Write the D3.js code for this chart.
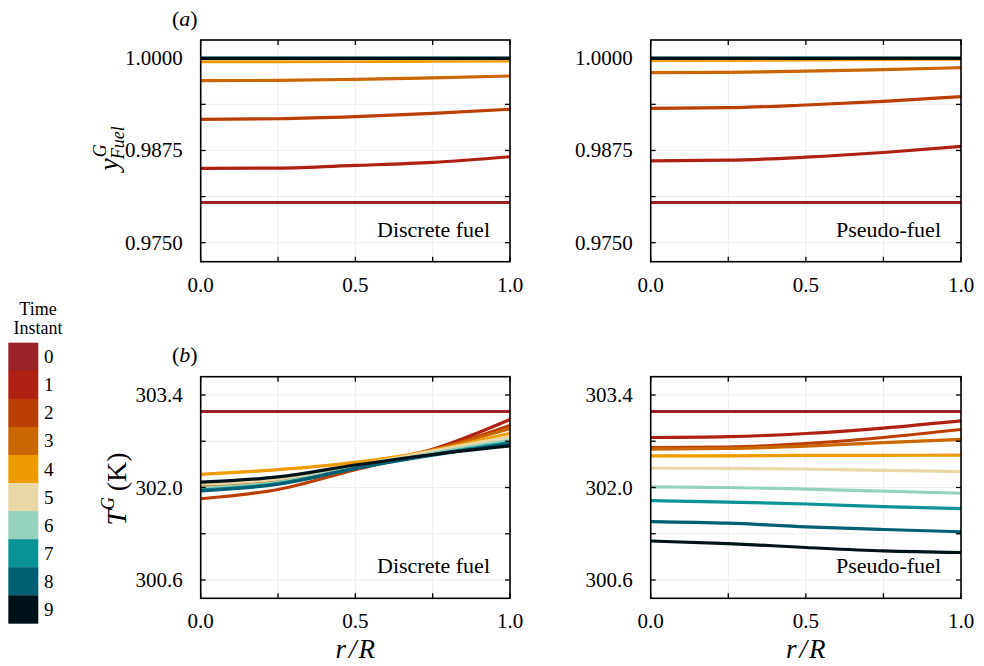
<!DOCTYPE html>
<html>
<head>
<meta charset="utf-8">
<script src="https://cdn.jsdelivr.net/npm/d3@7"></script>
</head>
<body style="margin:0;background:#fff">
<svg id="chart" width="984" height="666" style="display:block"></svg>
<script>
// ---------------- DATA ----------------
const rPoints = [0, 0.25, 0.5, 0.75, 1.0];
const timeInstants = ["0", "1", "2", "3", "4", "5", "6", "7", "8", "9"];
const instantColors = ["#9b2226", "#ae2012", "#bb3e03", "#ca6702", "#ee9b00",
                       "#e9d8a6", "#94d2bd", "#0a9396", "#005f73", "#001219"];

const xTicks = [0, 0.5, 1.0];
const xMinorTicks = [0.25, 0.75];
const yFuelTicks = [0.975, 0.9875, 1.0];
const yFuelMinorTicks = [0.98125, 0.99375];
const tempTicks = [300.6, 302.0, 303.4];
const tempMinorTicks = [301.3, 302.7];

// Gas fuel mass fraction, discrete fuel (one row per time instant, values at rPoints)
const yFuelDiscrete = [
  [0.98045, 0.98045, 0.98045, 0.98045, 0.98045],
  [0.98506, 0.98512, 0.98547, 0.98588, 0.98665],
  [0.99173, 0.99180, 0.99208, 0.99254, 0.99309],
  [0.99696, 0.99700, 0.99715, 0.99735, 0.99760],
  [0.99954, 0.99955, 0.99957, 0.99960, 0.99963],
  [0.99992, 0.99992, 0.99993, 0.99994, 0.99995],
  [0.99998, 0.99998, 0.99998, 0.99999, 0.99999],
  [0.99999, 0.99999, 0.99999, 1.00000, 1.00000],
  [1.00000, 1.00000, 1.00000, 1.00000, 1.00000],
  [1.00000, 1.00000, 1.00000, 1.00000, 1.00000]
];
// Gas fuel mass fraction, pseudo-fuel
const yFuelPseudo = [
  [0.98045, 0.98045, 0.98045, 0.98045, 0.98045],
  [0.98610, 0.98618, 0.98660, 0.98723, 0.98804],
  [0.99322, 0.99330, 0.99367, 0.99417, 0.99480],
  [0.99805, 0.99810, 0.99825, 0.99845, 0.99873],
  [0.99968, 0.99972, 0.99978, 0.99984, 0.99990],
  [0.99995, 0.99996, 0.99997, 0.99998, 0.99999],
  [0.99998, 0.99998, 0.99999, 0.99999, 1.00000],
  [1.00000, 1.00000, 1.00000, 1.00000, 1.00000],
  [1.00000, 1.00000, 1.00000, 1.00000, 1.00000],
  [1.00000, 1.00000, 1.00000, 1.00000, 1.00000]
];
// Gas temperature (K), discrete fuel
const tempDiscrete = [
  [303.15, 303.15, 303.15, 303.15, 303.15],
  [302.03, 302.12, 302.33, 302.58, 303.03],
  [301.83, 301.97, 302.27, 302.56, 302.94],
  [302.00, 302.10, 302.32, 302.57, 302.89],
  [302.20, 302.27, 302.38, 302.56, 302.82],
  [302.05, 302.13, 302.33, 302.55, 302.77],
  [301.99, 302.08, 302.30, 302.52, 302.72],
  [301.96, 302.06, 302.29, 302.50, 302.68],
  [301.95, 302.05, 302.29, 302.49, 302.66],
  [302.08, 302.16, 302.34, 302.50, 302.63]
];
// Gas temperature (K), pseudo-fuel
const tempPseudo = [
  [303.15, 303.15, 303.15, 303.15, 303.15],
  [302.757, 302.77, 302.817, 302.90, 303.008],
  [302.605, 302.61, 302.666, 302.757, 302.878],
  [302.58, 302.59, 302.625, 302.68, 302.727],
  [302.478, 302.48, 302.485, 302.487, 302.489],
  [302.292, 302.29, 302.28, 302.26, 302.24],
  [302.01, 302.00, 301.975, 301.945, 301.913],
  [301.80, 301.78, 301.75, 301.71, 301.68],
  [301.485, 301.46, 301.404, 301.364, 301.33],
  [301.19, 301.152, 301.092, 301.04, 301.016]
];

// ---------------- LAYOUT ----------------
const FONT = '"Liberation Serif"';
const svg = d3.select("#chart").style("font-family", FONT);
svg.append("rect").attr("width", 984).attr("height", 666).attr("fill", "#fff");

function txt(sel, size) {
  return sel.append("text").style("font-family", FONT).style("font-size", size + "px").attr("fill", "#000");
}

const colX = [[200.7, 510], [650.7, 961]];
const rowY = [[40, 261.7], [376.7, 598.3]];

const panels = [
  { col: 0, row: 0, data: yFuelDiscrete, domain: [0.97242, 1.00248], ticks: yFuelTicks, minor: yFuelMinorTicks, fmt: d3.format(".4f"), note: "Discrete fuel" },
  { col: 1, row: 0, data: yFuelPseudo,   domain: [0.97242, 1.00248], ticks: yFuelTicks, minor: yFuelMinorTicks, fmt: d3.format(".4f"), note: "Pseudo-fuel" },
  { col: 0, row: 1, data: tempDiscrete,  domain: [300.323, 303.677], ticks: tempTicks, minor: tempMinorTicks, fmt: d3.format(".1f"), note: "Discrete fuel" },
  { col: 1, row: 1, data: tempPseudo,    domain: [300.323, 303.677], ticks: tempTicks, minor: tempMinorTicks, fmt: d3.format(".1f"), note: "Pseudo-fuel" }
];

const tickFont = 21;
const tickLen = 5;

panels.forEach((p, pi) => {
  const [x0, x1] = colX[p.col];
  const [y0, y1] = rowY[p.row];
  const x = d3.scaleLinear().domain([0, 1]).range([x0, x1]);
  const y = d3.scaleLinear().domain(p.domain).range([y1, y0]);
  const g = svg.append("g");
  const allX = xTicks.concat(xMinorTicks);
  const allY = p.ticks.concat(p.minor);

  // grid
  const grid = g.append("g").attr("stroke", "#ededed").attr("stroke-width", 1);
  allX.forEach(v => grid.append("line").attr("x1", x(v)).attr("x2", x(v)).attr("y1", y0).attr("y2", y1));
  allY.forEach(v => grid.append("line").attr("x1", x0).attr("x2", x1).attr("y1", y(v)).attr("y2", y(v)));

  // clip
  const clipId = "clip" + pi;
  svg.append("clipPath").attr("id", clipId).append("rect")
    .attr("x", x0).attr("y", y0).attr("width", x1 - x0).attr("height", y1 - y0);

  // lines
  const line = d3.line()
    .x((d, i) => x(rPoints[i]))
    .y(d => y(d))
    .curve(d3.curveMonotoneX);
  g.append("g").attr("clip-path", `url(#${clipId})`)
    .selectAll("path").data(p.data).join("path")
    .attr("d", d => line(d))
    .attr("fill", "none")
    .attr("stroke", (d, i) => instantColors[i])
    .attr("stroke-width", 3.2);

  // inward ticks on all four sides
  const tk = g.append("g").attr("stroke", "#000").attr("stroke-width", 1.3);
  allX.forEach(v => {
    tk.append("line").attr("x1", x(v)).attr("x2", x(v)).attr("y1", y1).attr("y2", y1 - tickLen);
    tk.append("line").attr("x1", x(v)).attr("x2", x(v)).attr("y1", y0).attr("y2", y0 + tickLen);
  });
  allY.forEach(v => {
    tk.append("line").attr("x1", x0).attr("x2", x0 + tickLen).attr("y1", y(v)).attr("y2", y(v));
    tk.append("line").attr("x1", x1).attr("x2", x1 - tickLen).attr("y1", y(v)).attr("y2", y(v));
  });

  // tick labels
  xTicks.forEach(v => {
    txt(g, tickFont).attr("x", x(v)).attr("y", y1 + 30).attr("text-anchor", "middle").text(d3.format(".1f")(v));
  });
  p.ticks.forEach(v => {
    txt(g, tickFont).attr("x", x0 - 18).attr("y", y(v) + 7).attr("text-anchor", "end").text(p.fmt(v));
  });

  // frame
  g.append("rect").attr("x", x0).attr("y", y0).attr("width", x1 - x0).attr("height", y1 - y0)
    .attr("fill", "none").attr("stroke", "#000").attr("stroke-width", 1.6);

  // annotation
  txt(g, 22).attr("x", x1 - 20).attr("y", y1 - 25).attr("text-anchor", "end").text(p.note);

  // x axis label for bottom row
  if (p.row === 1) {
    const t = txt(g, 27).attr("x", (x0 + x1) / 2).attr("y", 658)
      .attr("text-anchor", "middle").style("font-style", "italic");
    t.append("tspan").text("r");
    t.append("tspan").attr("dx", 3).text("/");
    t.append("tspan").attr("dx", 2).text("R");
  }
});

// panel labels
[["a", 26], ["b", 362]].forEach(([lab, yy]) => {
  txt(svg, 22).attr("x", 172).attr("y", yy)
    .selectAll("tspan").data([["(", "normal"], [lab, "italic"], [")", "normal"]]).join("tspan")
    .style("font-style", d => d[1]).text(d => d[0]);
});

// y axis labels
(function () {
  const g = svg.append("g").attr("transform", "translate(118,148) rotate(-90)");
  const yT = txt(g, 28).style("font-style", "italic").text("y");
  const w = yT.node().getComputedTextLength();
  txt(g, 18).attr("x", w + 1).attr("y", -12).style("font-style", "italic").text("G");
  const f = txt(g, 18).attr("x", w - 1).attr("y", 6).style("font-style", "italic").text("Fuel");
  const total = w + f.node().getComputedTextLength();
  g.selectAll("text").attr("transform", `translate(${-total / 2},0)`);
})();
(function () {
  const g = svg.append("g").attr("transform", "translate(126,489) rotate(-90)");
  const t = txt(g, 28);
  t.append("tspan").style("font-style", "italic").text("T");
  t.append("tspan").style("font-style", "italic").style("font-size", "18px").attr("dy", -12).text("G");
  t.append("tspan").attr("dy", 12).text("\u2009(K)");
  const total = t.node().getComputedTextLength();
  t.attr("x", -total / 2);
})();

// legend
const legend = svg.append("g");
const cellH = 28.07;
txt(legend, 18).attr("x", 38).attr("y", 315).attr("text-anchor", "middle").text("Time");
txt(legend, 18).attr("x", 38).attr("y", 334).attr("text-anchor", "middle").text("Instant");
legend.selectAll("rect").data(timeInstants).join("rect")
  .attr("x", 8.3).attr("y", (d, i) => 342.7 + i * cellH)
  .attr("width", 30).attr("height", cellH + 0.3)
  .attr("fill", (d, i) => instantColors[i]);
timeInstants.forEach((d, i) => {
  txt(legend, 19).attr("x", 44).attr("y", 342.7 + (i + 0.5) * cellH + 6.5).text(d);
});
</script>
</body>
</html>
